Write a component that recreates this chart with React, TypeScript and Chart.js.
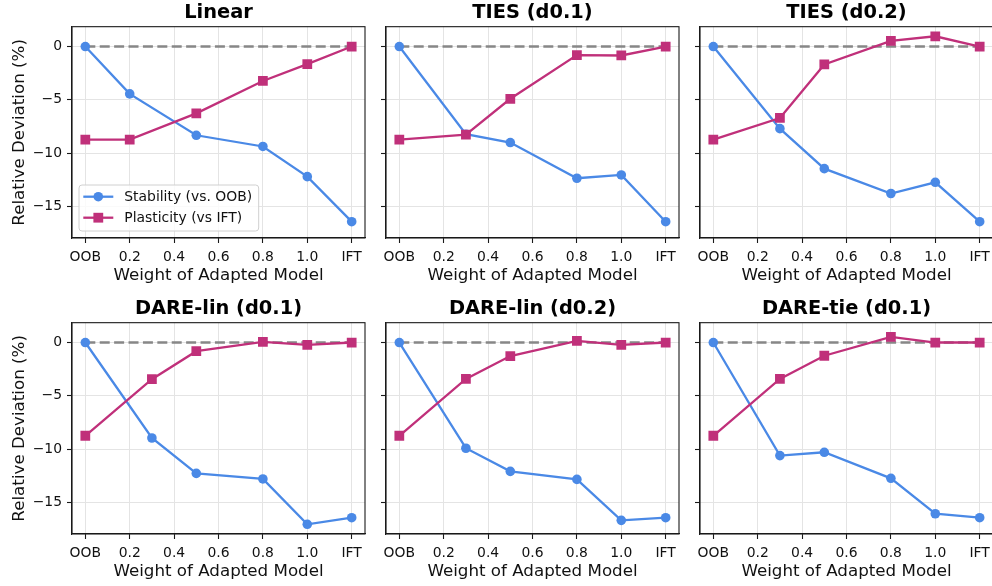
import React, { useEffect, useRef } from 'react';
import { Chart, registerables } from 'chart.js';

Chart.register(...registerables);

const FONT = '"DejaVu Sans", "Liberation Sans", sans-serif';
const BLUE = '#4A89E6';
const MAGENTA = '#C0307A';

// ---- data ----
const PANEL_TITLES = ['Linear', 'TIES (d0.1)', 'TIES (d0.2)', 'DARE-lin (d0.1)', 'DARE-lin (d0.2)', 'DARE-tie (d0.1)'];
const X_LINEAR = [0, 0.2, 0.5, 0.8, 1.0, 1.2];
const X_MERGE = [0, 0.3, 0.5, 0.8, 1.0, 1.2];
const X_TICKS = [0, 0.2, 0.4, 0.6, 0.8, 1.0, 1.2];
const X_TICK_LABELS = ['OOB', '0.2', '0.4', '0.6', '0.8', '1.0', 'IFT'];
const Y_TICKS = [-15, -10, -5, 0];
const LEGEND_LABELS = ['Stability (vs. OOB)', 'Plasticity (vs IFT)'];

const STAB_LINEAR = [0, -4.44, -8.32, -9.37, -12.2, -16.42];
const PLAS_LINEAR = [-8.72, -8.72, -6.27, -3.23, -1.65, 0];
const STAB_TIES_01 = [0, -8.22, -9.0, -12.35, -12.04, -16.42];
const PLAS_TIES_01 = [-8.72, -8.26, -4.9, -0.81, -0.84, 0];
const STAB_TIES_02 = [0, -7.7, -11.45, -13.78, -12.73, -16.42];
const PLAS_TIES_02 = [-8.72, -6.7, -1.68, 0.53, 0.96, 0];
const STAB_DARELIN_01 = [0, -8.95, -12.27, -12.79, -17.04, -16.42];
const PLAS_DARELIN_01 = [-8.74, -3.44, -0.81, 0.06, -0.22, 0];
const STAB_DARELIN_02 = [0, -9.91, -12.08, -12.83, -16.67, -16.42];
const PLAS_DARELIN_02 = [-8.74, -3.41, -1.27, 0.15, -0.22, 0];
const STAB_DARETIE_01 = [0, -10.6, -10.29, -12.73, -16.05, -16.42];
const PLAS_DARETIE_01 = [-8.74, -3.41, -1.24, 0.53, 0, 0];

const PANEL_X = [X_LINEAR, X_MERGE, X_MERGE, X_MERGE, X_MERGE, X_MERGE];
const PANEL_STAB = [STAB_LINEAR, STAB_TIES_01, STAB_TIES_02, STAB_DARELIN_01, STAB_DARELIN_02, STAB_DARETIE_01];
const PANEL_PLAS = [PLAS_LINEAR, PLAS_TIES_01, PLAS_TIES_02, PLAS_DARELIN_01, PLAS_DARELIN_02, PLAS_DARETIE_01];

// ---- layout ----
const AX_LEFTS = [72, 386, 700];
const AX_W = 293;
const Y_AXIS_W = 72;
const RIGHT_PAD = 15;
const CW = Y_AXIS_W + AX_W + RIGHT_PAD;
const CH = 290;
const ROW_TOPS = [0, 296];
const X_AXIS_H = 52;

const framePlugin = {
  id: 'frame',
  afterDatasetsDraw(chart: any) {
    const { ctx, chartArea: a } = chart;
    ctx.save();
    ctx.strokeStyle = '#1a1a1a';
    ctx.lineWidth = 1.1;
    ctx.strokeRect(a.left, a.top, a.right - a.left, a.bottom - a.top);
    ctx.restore();
  },
};

const legendPlugin = {
  id: 'innerLegend',
  afterDraw(chart: any) {
    const { ctx, chartArea: a } = chart;
    ctx.save();
    ctx.font = `13.9px ${FONT}`;
    const maxW = Math.max(...LEGEND_LABELS.map((t) => ctx.measureText(t).width));
    const left = a.left + 7;
    const h = 46;
    const top = a.bottom - 7 - h;
    const w = 45.3 + maxW + 6.6;
    const r = 3;
    ctx.beginPath();
    ctx.moveTo(left + r, top);
    ctx.lineTo(left + w - r, top);
    ctx.arcTo(left + w, top, left + w, top + r, r);
    ctx.lineTo(left + w, top + h - r);
    ctx.arcTo(left + w, top + h, left + w - r, top + h, r);
    ctx.lineTo(left + r, top + h);
    ctx.arcTo(left, top + h, left, top + h - r, r);
    ctx.lineTo(left, top + r);
    ctx.arcTo(left, top, left + r, top, r);
    ctx.closePath();
    ctx.fillStyle = 'rgba(255,255,255,0.8)';
    ctx.fill();
    ctx.strokeStyle = '#d0d0d0';
    ctx.lineWidth = 1;
    ctx.stroke();
    const colors = [BLUE, MAGENTA];
    LEGEND_LABELS.forEach((label, i) => {
      const y = top + 11.7 + i * 21;
      ctx.strokeStyle = colors[i];
      ctx.lineWidth = 2.3;
      ctx.beginPath();
      ctx.moveTo(left + 4.3, y);
      ctx.lineTo(left + 34.3, y);
      ctx.stroke();
      ctx.fillStyle = colors[i];
      const cx = left + 19.3;
      if (i === 0) {
        ctx.beginPath();
        ctx.arc(cx, y, 4.8, 0, Math.PI * 2);
        ctx.fill();
      } else {
        ctx.fillRect(cx - 4.9, y - 4.9, 9.8, 9.8);
      }
      ctx.fillStyle = '#111';
      ctx.textBaseline = 'middle';
      ctx.textAlign = 'left';
      ctx.fillText(label, left + 45.3, y + 0.5);
    });
    ctx.restore();
  },
};

function fmtY(v: number) {
  return v < 0 ? '\u2212' + Math.abs(v) : String(v);
}

function makeConfig(i: number): any {
  const col = i % 3;
  const xs = PANEL_X[i];
  const stab = PANEL_STAB[i];
  const plas = PANEL_PLAS[i];
  const showY = col === 0;
  return {
    type: 'line',
    data: {
      datasets: [
        {
          label: LEGEND_LABELS[0],
          data: xs.map((x, k) => ({ x, y: stab[k] })),
          borderColor: BLUE,
          backgroundColor: BLUE,
          borderWidth: 2.3,
          pointStyle: 'circle',
          pointRadius: 4.8,
          pointBorderWidth: 0,
          tension: 0,
          order: 1,
        },
        {
          label: LEGEND_LABELS[1],
          data: xs.map((x, k) => ({ x, y: plas[k] })),
          borderColor: MAGENTA,
          backgroundColor: MAGENTA,
          borderWidth: 2.3,
          pointStyle: 'rect',
          pointRadius: 6.9,
          pointBorderWidth: 0,
          tension: 0,
          order: 0,
        },
        {
          label: 'zero',
          data: [
            { x: X_TICKS[0], y: 0 },
            { x: X_TICKS[X_TICKS.length - 1], y: 0 },
          ],
          borderColor: '#878787',
          borderDash: [10, 4.4],
          borderWidth: 2.7,
          pointRadius: 0,
          order: 2,
        },
      ],
    },
    options: {
      animation: false,
      responsive: false,
      events: [],
      layout: { padding: { left: 0, right: RIGHT_PAD, top: 0, bottom: 0 } },
      plugins: {
        legend: { display: false },
        tooltip: { enabled: false },
        title: {
          display: true,
          text: PANEL_TITLES[i],
          fullSize: false,
          color: '#000',
          font: { family: FONT, size: 19.4, weight: 'bold', lineHeight: 1.2 },
          padding: { top: 1, bottom: 2.4 },
        },
      },
      scales: {
        x: {
          type: 'linear',
          min: -0.06,
          max: 1.26,
          afterBuildTicks: (scale: any) => {
            scale.ticks = X_TICKS.map((v) => ({ value: v }));
          },
          afterFit: (scale: any) => {
            scale.height = X_AXIS_H;
          },
          ticks: {
            autoSkip: false,
            maxRotation: 0,
            padding: 6.4,
            color: '#111',
            font: { family: FONT, size: 13.9, lineHeight: 1.2 },
            callback: (_v: any, idx: number) => X_TICK_LABELS[idx],
          },
          grid: {
            color: '#e4e4e4',
            lineWidth: 1,
            drawTicks: true,
            tickLength: 5,
            tickColor: '#1a1a1a',
            tickWidth: 1.1,
          },
          border: { display: true, color: '#1a1a1a', width: 1.1 },
          title: {
            display: true,
            text: 'Weight of Adapted Model',
            color: '#111',
            font: { family: FONT, size: 16.7, lineHeight: 1.2 },
            padding: { top: 0, bottom: 4 },
          },
        },
        y: {
          type: 'linear',
          min: -17.95,
          max: 1.86,
          afterBuildTicks: (scale: any) => {
            scale.ticks = Y_TICKS.map((v) => ({ value: v }));
          },
          afterFit: (scale: any) => {
            scale.width = Y_AXIS_W;
          },
          ticks: {
            autoSkip: false,
            padding: 5,
            color: '#111',
            font: { family: FONT, size: 13.9, lineHeight: 1.2 },
            callback: (v: any) => (showY ? fmtY(Number(v)) : ''),
          },
          grid: {
            color: '#e4e4e4',
            lineWidth: 1,
            drawTicks: true,
            tickLength: 5,
            tickColor: '#1a1a1a',
            tickWidth: 1.1,
          },
          border: { display: true, color: '#1a1a1a', width: 1.1 },
          title: {
            display: showY,
            text: 'Relative Deviation (%)',
            color: '#111',
            font: { family: FONT, size: 16.7, lineHeight: 1.2 },
            padding: { top: 9.6, bottom: 0 },
          },
        },
      },
    },
    plugins: i === 0 ? [framePlugin, legendPlugin] : [framePlugin],
  };
}

function Panel({ index }: { index: number }) {
  const ref = useRef<HTMLCanvasElement>(null);
  useEffect(() => {
    const chart = new Chart(ref.current as HTMLCanvasElement, makeConfig(index));
    return () => chart.destroy();
  }, [index]);
  const col = index % 3;
  const row = Math.floor(index / 3);
  return (
    <canvas
      ref={ref}
      width={CW}
      height={CH}
      style={{
        position: 'absolute',
        left: AX_LEFTS[col] - Y_AXIS_W,
        top: ROW_TOPS[row],
        width: CW,
        height: CH,
        display: 'block',
      }}
    />
  );
}

export default function App() {
  return (
    <div
      style={{
        position: 'fixed',
        left: 0,
        top: 0,
        width: 992,
        height: 586,
        overflow: 'hidden',
        background: '#fff',
      }}
    >
      {PANEL_TITLES.map((_, i) => (
        <Panel key={i} index={i} />
      ))}
    </div>
  );
}
